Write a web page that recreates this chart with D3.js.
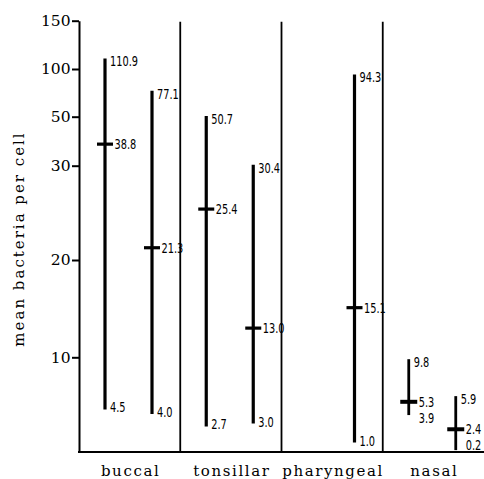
<!DOCTYPE html>
<html><head><meta charset="utf-8">
<script src="https://cdn.jsdelivr.net/npm/d3@7"></script>
<style>
html,body{margin:0;padding:0;background:#fff;}
svg{display:block;}
.num{font-family:"DejaVu Sans",sans-serif;font-size:14px;fill:#000;}
.ser{font-family:"DejaVu Serif",serif;fill:#000;}
</style></head>
<body>
<svg id="c" width="484" height="479"></svg>
<script>
const categories = ["buccal","tonsillar","pharyngeal","nasal"];
const barGroup  = ["buccal","buccal","tonsillar","tonsillar","pharyngeal","nasal","nasal"];
const barSlot   = [0,1,0,1,1,0,1];
const highs     = [110.9,77.1,50.7,30.4,94.3,9.8,5.9];
const means     = [38.8,21.3,25.4,13.0,15.1,5.3,2.4];
const lows      = [4.5,4.0,2.7,3.0,1.0,3.9,0.2];
const tickVals  = [10,20,30,50,100,150];
const yLabel = "mean bacteria per cell";

const svg = d3.select("#c");
const mLeft = 79, mRight = 484, mBottom = 452, mTop = 20.7;

const y = d3.scaleLinear()
  .domain([0,10,20,30,50,100,150])
  .range([mBottom,357.3,260,165.7,116.7,69,mTop]);
const x = d3.scaleBand().domain(categories).range([mLeft,mRight]).padding(0);
const slot = d3.scalePoint().domain([0,1]).range([26,73]);

// y axis
const ax = svg.append("g").attr("transform",`translate(${mLeft},0)`)
  .call(d3.axisLeft(y).tickValues(tickVals).tickSize(7).tickSizeOuter(0).tickPadding(1.5).tickFormat(d3.format("d")));
ax.select(".domain").attr("stroke","#000").attr("stroke-width",2);
ax.selectAll(".tick line").attr("stroke","#000").attr("stroke-width",2);
ax.selectAll(".tick text").attr("class","ser").attr("font-size",15.5).attr("font-family","DejaVu Serif").attr("fill","#000");

// x axis baseline
svg.append("line").attr("x1",mLeft-1).attr("x2",mRight).attr("y1",mBottom).attr("y2",mBottom)
  .attr("stroke","#000").attr("stroke-width",2);

// separators
categories.slice(1).forEach(c=>{
  svg.append("line").attr("x1",x(c)).attr("x2",x(c)).attr("y1",y(150)+1).attr("y2",mBottom)
    .attr("stroke","#000").attr("stroke-width",1.8);
});

// category labels
svg.selectAll(".cat").data(categories).enter().append("text")
  .attr("class","ser").attr("font-size",15).attr("letter-spacing","1.6px")
  .attr("x",d=>x(d)+x.bandwidth()/2+1).attr("y",476).attr("text-anchor","middle").text(d=>d);

// y label
svg.append("text").attr("class","ser").attr("font-size",15).attr("letter-spacing","2px")
  .attr("transform","translate(24,239) rotate(-90)").attr("text-anchor","middle").text(yLabel);

// value labels (condensed by horizontal scaling)
function num(tx, ty, s){
  svg.append("text").attr("class","num")
    .attr("transform",`translate(${tx},${ty}) scale(0.7,1)`).text(s);
}

// bars
const fmt = d3.format(".1f");
highs.forEach((h,i)=>{
  const cx = x(barGroup[i]) + slot(barSlot[i]);
  const narrow = barGroup[i]==="nasal";
  const hw = narrow ? 8.5 : 8;
  svg.append("line").attr("x1",cx).attr("x2",cx).attr("y1",y(h)).attr("y2",y(lows[i]))
    .attr("stroke","#000").attr("stroke-width",narrow?2.8:3.2);
  svg.append("line").attr("x1",cx-hw).attr("x2",cx+hw).attr("y1",y(means[i])).attr("y2",y(means[i]))
    .attr("stroke","#000").attr("stroke-width",narrow?4:3.2);
  num(cx+5, y(h)+8, fmt(h));
  num(cx+hw+1.5, y(means[i])+5, fmt(means[i]));
  const close = y(lows[i]) - y(means[i]) < 25;
  num(close ? cx+hw+1.5 : cx+5, close ? y(means[i])+21 : y(lows[i])+3, fmt(lows[i]));
});
</script>
</body></html>
